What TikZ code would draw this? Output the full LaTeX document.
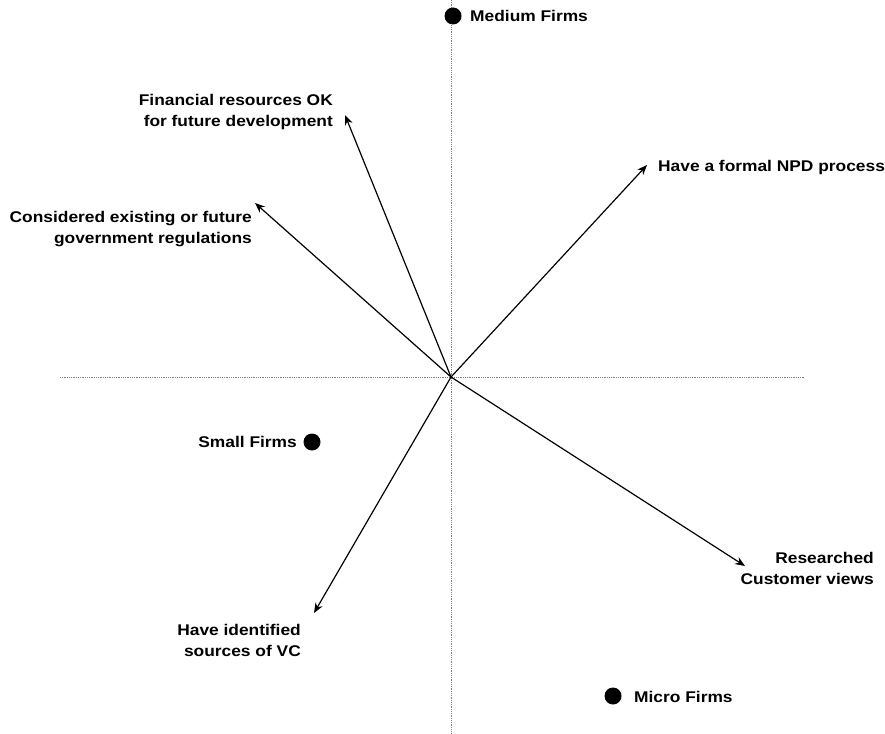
\documentclass[tikz,border=0pt]{standalone}
\usepackage{fontspec}
\setmainfont{Liberation Sans}[FakeStretch=1.12]
\usetikzlibrary{arrows.meta}
\begin{document}
\begin{tikzpicture}[x=1pt,y=-1pt,
  lab/.style={font=\bfseries\fontsize{15.5}{21}\selectfont, inner sep=0pt, align=#1},
  lab/.default=center,
  axis/.style={gray, densely dotted, line width=0.8pt},
  vec/.style={line width=1.2pt, -{Stealth[length=10pt,width=8pt]}},
  dot/.style={circle, fill=black, minimum size=17pt, inner sep=0pt}]
\useasboundingbox (0,0) rectangle (885,733);
\coordinate (O) at (451,377);
\coordinate (axL) at (60,377);
\coordinate (axR) at (805,377);
\coordinate (axT) at (451,0);
\coordinate (axB) at (451,733);
\draw[axis] (axL) -- (axR);
\draw[axis] (axT) -- (axB);
% arrow tips
\coordinate (tNPD) at (647,165);
\coordinate (tFin) at (345,115);
\coordinate (tReg) at (255,203);
\coordinate (tRes) at (745,566);
\coordinate (tVC) at (314,613);
\draw[vec] (O) -- (tNPD);
\draw[vec] (O) -- (tFin);
\draw[vec] (O) -- (tReg);
\draw[vec] (O) -- (tRes);
\draw[vec] (O) -- (tVC);
% dots
\node[dot] (dMed) at (453,16) {};
\node[dot] (dSmall) at (312,442) {};
\node[dot] (dMicro) at (613,696) {};
% labels
\node[lab, anchor=west] (lMed) at (470,16) {Medium Firms};
\node[lab, anchor=east] (lSmall) at (297,442) {Small Firms};
\node[lab, anchor=west] (lMicro) at (634,697) {Micro Firms};
\node[lab=right, anchor=east] (lFin) at (333,112) {Financial resources OK\\for future development};
\node[lab, anchor=west] (lNPD) at (658,167) {Have a formal NPD process};
\node[lab=right, anchor=east] (lReg) at (252,229) {Considered existing or future\\government regulations};
\node[lab=right, anchor=east] (lRes) at (874,568) {Researched\\Customer views};
\node[lab=right, anchor=east] (lVC) at (301,640) {Have identified\\sources of VC};
\end{tikzpicture}
\end{document}
